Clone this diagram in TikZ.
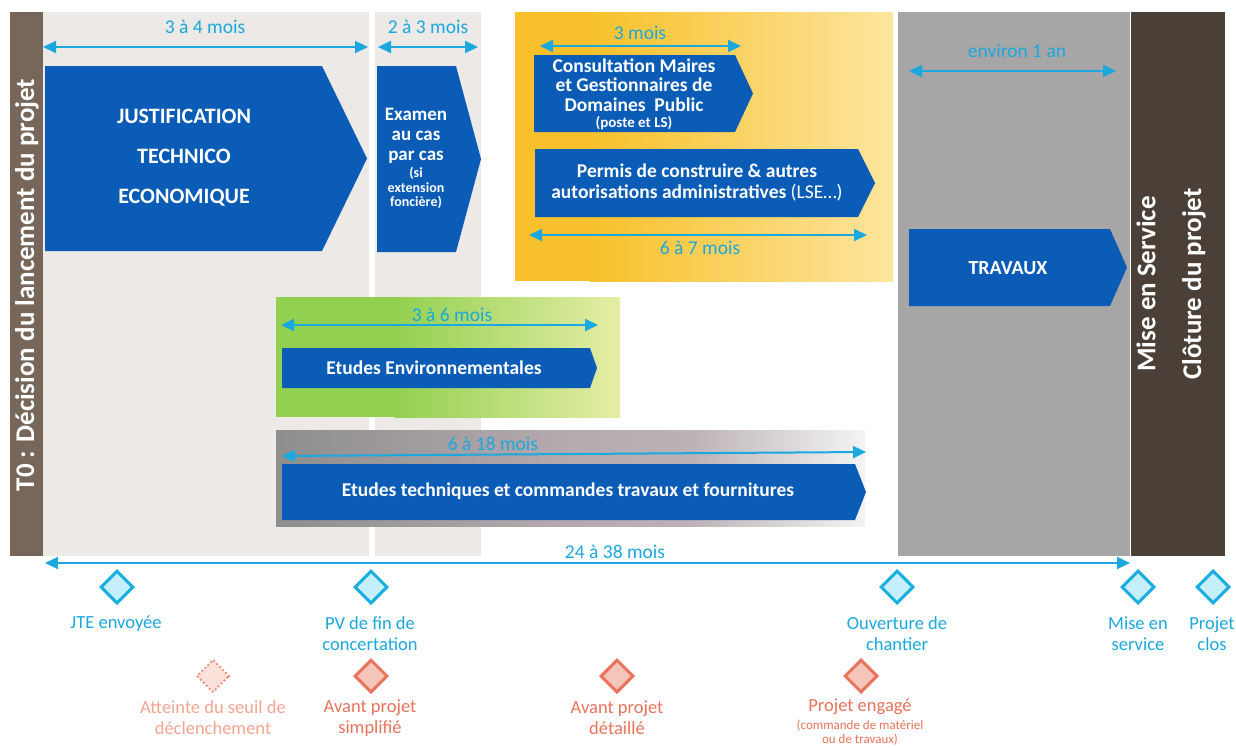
\documentclass[tikz,border=0pt]{standalone}
\usepackage{fontspec}
\setmainfont{Carlito}
\usetikzlibrary{arrows.meta,shapes.geometric}

\definecolor{chevblue}{HTML}{0B5CB6}
\definecolor{durcyan}{HTML}{1AA8DE}
\definecolor{tzero}{HTML}{76675A}
\definecolor{paneltint}{HTML}{ECE9E6}
\definecolor{worksgray}{HTML}{A6A6A6}
\definecolor{closebrown}{HTML}{4B4037}
\definecolor{orangeA}{HTML}{F8C12B}
\definecolor{orangeB}{HTML}{FDE59E}
\definecolor{greenA}{HTML}{92D050}
\definecolor{greenB}{HTML}{E6EDA6}
\definecolor{grayA}{HTML}{8E8E8E}
\definecolor{grayB}{HTML}{B4A9AE}
\definecolor{grayC}{HTML}{F4F4F4}
\definecolor{msblue}{HTML}{1AAEE0}
\definecolor{msbluefill}{HTML}{C6EFFD}
\definecolor{msorange}{HTML}{E9735B}
\definecolor{msorangefill}{HTML}{F6C5B9}
\definecolor{mspale}{HTML}{F08E78}
\definecolor{mspalefill}{HTML}{FBE1DA}
\definecolor{mspaletext}{HTML}{F4A592}

% blue arrow-shaped task box: left x, top y, end of flat part, tip x, bottom y
\newcommand\chevronshape[5]{%
  \fill[chevblue] (#1,#2) -- (#3,#2) -- (#4,{(#2+#5)/2}) -- (#3,#5) -- (#1,#5) -- cycle;}

\tikzset{
  dur/.style={draw=durcyan, line width=2pt,
    {Triangle[length=13pt,width=12pt]}-{Triangle[length=13pt,width=12pt]}},
  durlabel/.style={text=durcyan, font=\fontsize{19.5}{21}\selectfont, inner sep=0pt, anchor=base},
  chevtext/.style={text=white, align=center, inner sep=0pt},
  vertlabel/.style={text=white, rotate=90, inner sep=0pt, font=\fontsize{27}{29}\selectfont\bfseries},
  msb/.style={diamond, draw=msblue, fill=msbluefill, line width=3pt,
    minimum width=33pt, minimum height=33pt, inner sep=0pt},
  mso/.style={diamond, draw=msorange, fill=msorangefill, line width=3pt,
    minimum width=33pt, minimum height=33pt, inner sep=0pt},
  msdot/.style={diamond, draw=mspale, fill=mspalefill, line width=2.6pt,
    line cap=round, dash pattern=on 0pt off 4.2pt,
    minimum width=33pt, minimum height=33pt, inner sep=0pt},
  mslbl/.style={align=center, inner sep=0pt, font=\fontsize{18.5}{21}\selectfont},
}

\begin{document}
\begin{tikzpicture}[x=1pt,y=-1pt]
\useasboundingbox (0,0) rectangle (1236,747);
\fill[white] (0,0) rectangle (1236,747);

% ---- background phase panels
\fill[tzero] (10,12) rectangle (43,556);
\fill[paneltint] (43,12) rectangle (369,556);
\fill[paneltint] (375,12) rectangle (481,556);
\fill[orangeA] (515,12) rectangle (590,281);
\shade[left color=orangeA, right color=orangeB] (589.5,12) rectangle (893,281);
\fill[worksgray] (898,12) rectangle (1129.5,556);
\fill[closebrown] (1131,12) rectangle (1225,556);
\fill[greenA] (276,297) rectangle (395,417);
\shade[left color=greenA, right color=greenB] (394.5,297) rectangle (620,417);
\shade[left color=grayA, right color=grayB] (276,430) rectangle (560,526);
\shade[left color=grayB, right color=grayB!90!white] (559.5,430) rectangle (690,526);
\shade[left color=grayB!90!white, right color=grayC] (689.5,430) rectangle (865,526);

% ---- vertical titles
\node[vertlabel] (t0) at (27,285) {T0 : Décision du lancement du projet};
\node[vertlabel] (mes) at (1146,284) {Mise en Service};
\node[vertlabel] (clot) at (1194,284) {Clôture du projet};

% ---- task boxes
\chevronshape{45}{66}{322}{367}{251}
\node[chevtext, font=\fontsize{22}{40}\selectfont\bfseries] (jte) at (184,158)
  {JUSTIFICATION\\TECHNICO\\ECONOMIQUE};

\chevronshape{377}{66}{456}{481}{252}
\node[chevtext, font=\fontsize{19}{20}\selectfont\bfseries] (examA) at (416,136)
  {Examen\\au cas\\par cas};
\node[chevtext, font=\fontsize{14}{14.5}\selectfont\bfseries] (examB) at (416,188)
  {(si\\extension\\foncière)};

\chevronshape{534}{55}{735}{753}{132}
\node[chevtext, font=\fontsize{19.5}{19.5}\selectfont\bfseries] (consA) at (634,85)
  {Consultation Maires\\et Gestionnaires de\\Domaines~ Public};
\node[chevtext, font=\fontsize{15}{16}\selectfont\bfseries] (consB) at (634,123)
  {(poste et LS)};

\chevronshape{535}{149}{858}{875}{217}
\node[chevtext, font=\fontsize{19.5}{21}\selectfont\bfseries] (perm) at (697,183)
  {Permis de construire \& autres\\autorisations administratives {\mdseries (LSE…)}};

\chevronshape{909}{229}{1110}{1127}{306}
\node[chevtext, font=\fontsize{20}{21}\selectfont\bfseries] (trav) at (1008,268) {TRAVAUX};

\chevronshape{282}{348}{590}{597}{388}
\node[chevtext, font=\fontsize{19.5}{21}\selectfont\bfseries] (env) at (434,368)
  {Etudes Environnementales};

\chevronshape{282}{464}{855}{866}{520}
\node[chevtext, font=\fontsize{19.5}{21}\selectfont\bfseries] (tech) at (568,491)
  {Etudes techniques et commandes travaux et fournitures};

% ---- durations
\coordinate (d1a) at (43,47);   \coordinate (d1b) at (368,47);
\draw[dur] (d1a) -- (d1b);
\node[durlabel] (d1) at (205,33) {3 à 4 mois};
\coordinate (d2a) at (378,47);  \coordinate (d2b) at (478,47);
\draw[dur] (d2a) -- (d2b);
\node[durlabel] (d2) at (428,33) {2 à 3 mois};
\coordinate (d3a) at (540,46);  \coordinate (d3b) at (741,46);
\draw[dur] (d3a) -- (d3b);
\node[durlabel] (d3) at (640,39) {3 mois};
\coordinate (d4a) at (529,235); \coordinate (d4b) at (867,235);
\draw[dur] (d4a) -- (d4b);
\node[durlabel] (d4) at (700,254) {6 à 7 mois};
\coordinate (d5a) at (909,71);  \coordinate (d5b) at (1116,71);
\draw[dur] (d5a) -- (d5b);
\node[durlabel] (d5) at (1017,57) {environ 1 an};
\coordinate (d6a) at (281,325); \coordinate (d6b) at (598,325);
\draw[dur] (d6a) -- (d6b);
\node[durlabel] (d6) at (452,321) {3 à 6 mois};
\coordinate (d7a) at (282,456); \coordinate (d7b) at (866,452);
\draw[dur] (d7a) -- (d7b);
\node[durlabel] (d7) at (493,450) {6 à 18 mois};
\coordinate (d8a) at (45,563);  \coordinate (d8b) at (1130,563);
\draw[dur] (d8a) -- (d8b);
\node[durlabel] (d8) at (615,558) {24 à 38 mois};

% ---- milestones (blue)
\node[msb] (mJTE) at (117,587) {};
\node[msb] (mPV)  at (371,587) {};
\node[msb] (mOuv) at (897,587) {};
\node[msb] (mMES) at (1138,587) {};
\node[msb] (mClos) at (1213,587) {};
\node[mslbl, text=durcyan] (lJTE) at (116,624) {JTE envoyée};
\node[mslbl, text=durcyan] (lPV) at (370,634) {PV de fin de\\concertation};
\node[mslbl, text=durcyan] (lOuv) at (897,634) {Ouverture de\\chantier};
\node[mslbl, text=durcyan] (lMES) at (1138,634) {Mise en\\service};
\node[mslbl, text=durcyan] (lClos) at (1212,634) {Projet\\clos};

% ---- milestones (orange)
\node[msdot] (mSeuil) at (213,676) {};
\node[mso] (mAPS) at (371,676) {};
\node[mso] (mAPD) at (617,676) {};
\node[mso] (mEng) at (861,676) {};
\node[mslbl, text=mspaletext] (lSeuil) at (213,718) {Atteinte du seuil de\\déclenchement};
\node[mslbl, text=msorange] (lAPS) at (370,718) {Avant projet\\simplifié};
\node[mslbl, text=msorange] (lAPD) at (617,718) {Avant projet\\détaillé};
\node[mslbl, text=msorange] (lEng) at (860,707) {Projet engagé};
\node[align=center, inner sep=0pt, text=msorange, font=\fontsize{13}{14}\selectfont] (lEngB)
  at (860,733) {(commande de matériel\\ou de travaux)};
\end{tikzpicture}
\end{document}
